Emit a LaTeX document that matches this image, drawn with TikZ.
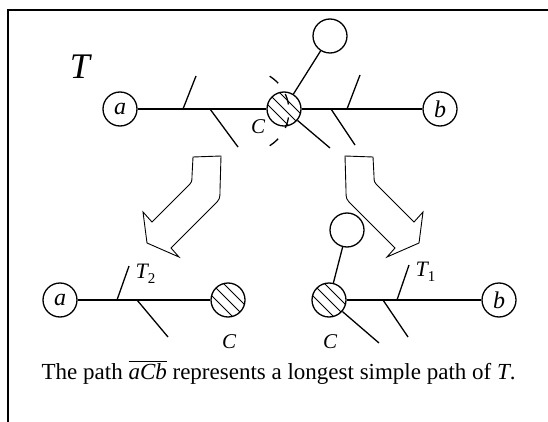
\documentclass[tikz,border=0pt]{standalone}
\usepackage{fontspec}
\setmainfont{Liberation Serif}
\usetikzlibrary{calc}
\begin{document}
\begin{tikzpicture}[x=1pt,y=-1pt,line width=1.3pt,
  vtx/.style={circle,draw,minimum size=34pt,inner sep=0pt,font=\fontsize{24}{24}\selectfont\itshape},
  lbl/.style={font=\fontsize{21}{21}\selectfont\itshape,inner sep=0pt},
  fatarrow/.style={line width=0.9pt},
  hatchln/.style={line width=1pt}]
\useasboundingbox (0,0) rectangle (548,422);
% frame
\coordinate (f0) at (8,10);
\coordinate (f1) at (548,10);
\coordinate (f2) at (8,422);
\draw[line width=1.6pt] (f1) -- (f0) -- (f2);

\node[font=\fontsize{36}{36}\selectfont\itshape,inner sep=0pt] (T) at (80,67) {T};

% ---------- top tree ----------
\node[vtx] (a) at (120,109) {a};
\node[vtx] (b) at (440,109) {b};
\node[vtx] (C) at (284,109) {};
\node[vtx] (top) at (330,36) {};
\begin{scope}
  \clip (C.center) circle[radius=17pt];
  \foreach \k in {-6,0,6}
    \draw[hatchln] ($(C.center)+(-25+\k,-25-\k)$) -- ($(C.center)+(25+\k,25-\k)$);
\end{scope}
\draw (a) -- (C) -- (b);
\draw (C) -- (top);
\coordinate (l1a) at (183,109); \coordinate (l1b) at (196,76);
\coordinate (l2a) at (210,109); \coordinate (l2b) at (238,147);
\coordinate (cd)  at (330,148);
\coordinate (r1a) at (331,109); \coordinate (r1b) at (355,145);
\coordinate (r2a) at (347,109); \coordinate (r2b) at (360,75);
\draw (l1a) -- (l1b);
\draw (l2a) -- (l2b);
\draw (C) -- (cd);
\draw (r1a) -- (r1b);
\draw (r2a) -- (r2b);
\node[lbl] (Cl) at (258,127) {C};
\draw[line width=1.3pt,dash pattern=on 11pt off 13pt] (269.7,76.2) arc[start angle=-58,end angle=58,radius=41];

% ---------- arrows ----------
\draw[fatarrow] (193,157) -- (221,156) -- (220,190) .. controls (220,199) .. (214,205)
  -- (171,248) -- (179,257) -- (147,243) -- (143,212) -- (152,222) -- (187,187)
  .. controls (192,182) .. (192,176) -- cycle;
\draw[fatarrow] (373,157) -- (345,156) -- (346,190) .. controls (346,199) .. (352,205)
  -- (395,248) -- (387,257) -- (419,243) -- (423,212) -- (414,222) -- (379,187)
  .. controls (374,182) .. (374,176) -- cycle;

% ---------- bottom left ----------
\node[vtx] (a2) at (60,300) {a};
\node[vtx] (C2) at (228,300) {};
\begin{scope}
  \clip (C2.center) circle[radius=17pt];
  \foreach \k in {-6,0,6}
    \draw[hatchln] ($(C2.center)+(-25+\k,-25-\k)$) -- ($(C2.center)+(25+\k,25-\k)$);
\end{scope}
\draw (a2) -- (C2);
\coordinate (bl1a) at (117,300); \coordinate (bl1b) at (129,266);
\coordinate (bl2a) at (137,300); \coordinate (bl2b) at (168,337);
\draw (bl1a) -- (bl1b);
\draw (bl2a) -- (bl2b);
\node[anchor=base west,inner sep=0pt] (T2) at (135,278)
  {\fontsize{22}{22}\selectfont\itshape T\raisebox{-5pt}{\fontsize{15}{15}\selectfont\upshape 2}};
\node[lbl] (C2l) at (229,342) {C};

% ---------- bottom right ----------
\node[vtx] (C3) at (329,300) {};
\node[vtx] (top3) at (347,230) {};
\node[vtx] (b2) at (499,300) {b};
\begin{scope}
  \clip (C3.center) circle[radius=17pt];
  \foreach \k in {-6,0,6}
    \draw[hatchln] ($(C3.center)+(-25+\k,-25-\k)$) -- ($(C3.center)+(25+\k,25-\k)$);
\end{scope}
\draw (C3) -- (b2);
\draw (C3) -- (top3);
\coordinate (cd3) at (379,343);
\draw (C3) -- (cd3);
\coordinate (br1a) at (383,300); \coordinate (br1b) at (408,337);
\coordinate (br2a) at (397,300); \coordinate (br2b) at (409,265);
\draw (br1a) -- (br1b);
\draw (br2a) -- (br2b);
\node[anchor=base west,inner sep=0pt] (T1) at (415,276)
  {\fontsize{22}{22}\selectfont\itshape T\raisebox{-5pt}{\fontsize{15}{15}\selectfont\upshape 1}};
\node[lbl] (C3l) at (330,342) {C};

% ---------- caption ----------
\node[anchor=base west,inner sep=0pt,font=\fontsize{23}{23}\selectfont] (cap) at (41,379)
  {The path $\overline{\mbox{\itshape aCb}}$ represents a longest simple path of \textit{T}.};
\end{tikzpicture}
\end{document}
